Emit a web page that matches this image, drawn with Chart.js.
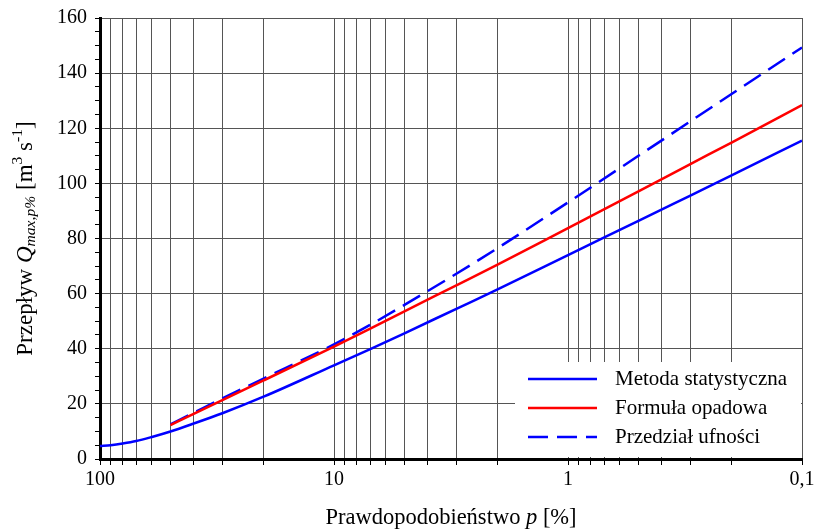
<!DOCTYPE html>
<html>
<head>
<meta charset="utf-8">
<script src="https://cdn.jsdelivr.net/npm/chart.js@4.4.1/dist/chart.umd.min.js"></script>
<style>
  html, body { margin: 0; padding: 0; background: #fff; }
  #wrap { width: 814px; height: 531px; }
</style>
</head>
<body>
<div id="wrap"><canvas id="chart" width="814" height="531"></canvas></div>
<script>
// prawdopodobieństwo p [%]
const pStat = [100, 90, 80, 70, 60, 50, 40, 30, 20, 10, 7, 5, 3, 2, 1, 0.5, 0.3, 0.2, 0.1];
const qStat = [4.7, 5.0, 5.6, 6.5, 8.0, 10.0, 12.8, 16.6, 22.6, 34.0, 39.9, 45.6, 54.5, 61.5, 74.0, 86.4, 95.6, 102.9, 115.5];

const pOpad = [50, 40, 30, 20, 10, 7, 5, 3, 2, 1, 0.5, 0.3, 0.2, 0.1];
const qOpad = [12.3, 16.3, 21.4, 28.5, 40.8, 47.3, 53.6, 63.0, 70.5, 83.8, 97.1, 107.0, 114.8, 128.4];
const qUfn = [12.6, 16.7, 22.0, 29.2, 41.6, 48.7, 55.9, 67.2, 76.5, 93.1, 110.0, 122.5, 132.4, 149.3];

const seriesNames = ['Metoda statystyczna', 'Formuła opadowa', 'Przedział ufności'];

// linie siatki: 1..9 x 10^n od 0,1 do 100
const xGrid = [];
[0.1, 1, 10].forEach(d => { for (let k = 1; k <= 9; k++) xGrid.push(+(k * d).toFixed(2)); });
xGrid.push(100);
const xLabels = [100, 10, 1, 0.1];

const FONT = "'Liberation Serif', 'Times New Roman', serif";
const toXY = (xs, ys) => xs.map((x, i) => ({ x: x, y: ys[i] }));

// tekst z kursywą / indeksami
function drawRich(ctx, parts, size) {
    let w = 0;
    parts.forEach(p => {
        const s = p.sup || p.sub ? size * 0.68 : size;
        ctx.font = (p.it ? 'italic ' : '') + s + 'px ' + FONT;
        p.w = ctx.measureText(p.t).width;
        p.s = s;
        w += p.w;
    });
    let x = -w / 2;
    parts.forEach(p => {
        ctx.font = (p.it ? 'italic ' : '') + p.s + 'px ' + FONT;
        let dy = 0;
        if (p.sup) dy = -size * 0.36;
        if (p.sub) dy = size * 0.22;
        ctx.fillText(p.t, x, dy);
        x += p.w;
    });
}

const extras = {
    id: 'extras',
    afterDraw(chart) {
        const ctx = chart.ctx;
        const a = chart.chartArea;
        ctx.save();
        ctx.fillStyle = '#000';
        ctx.textBaseline = 'middle';
        ctx.textAlign = 'left';

        // tytuł osi X
        ctx.save();
        ctx.translate((a.left + a.right) / 2, 518);
        drawRich(ctx, [{ t: 'Prawdopodobieństwo ' }, { t: 'p', it: true }, { t: ' [%]' }], 22.5);
        ctx.restore();

        // tytuł osi Y
        ctx.save();
        ctx.translate(26, (a.top + a.bottom) / 2);
        ctx.rotate(-Math.PI / 2);
        drawRich(ctx, [
            { t: 'Przepływ ' }, { t: 'Q', it: true }, { t: 'max,p%', it: true, sub: true },
            { t: ' [m' }, { t: '3', sup: true }, { t: ' s' }, { t: '-1', sup: true }, { t: ']' }
        ], 23);
        ctx.restore();

        // legenda
        const bx = 515, by = 362;
        ctx.fillStyle = '#fff';
        ctx.fillRect(bx, by, a.right - bx - 1, a.bottom - by - 2);
        ctx.font = '21px ' + FONT;
        chart.data.datasets.forEach((ds, i) => {
            const y = by + 17 + i * 29;
            ctx.strokeStyle = ds.borderColor;
            ctx.lineWidth = ds.borderWidth;
            ctx.setLineDash(ds.borderDash || []);
            ctx.beginPath();
            ctx.moveTo(bx + 13, y);
            ctx.lineTo(bx + 82, y);
            ctx.stroke();
            ctx.setLineDash([]);
            ctx.fillStyle = '#000';
            ctx.fillText(ds.label, bx + 100, y);
        });
        ctx.restore();
    }
};

new Chart(document.getElementById('chart').getContext('2d'), {
    type: 'line',
    data: {
        datasets: [{
            label: seriesNames[0],
            data: toXY(pStat, qStat),
            borderColor: '#0000ff',
            borderWidth: 2.5,
            pointRadius: 0,
            cubicInterpolationMode: 'monotone'
        }, {
            label: seriesNames[1],
            data: toXY(pOpad, qOpad),
            borderColor: '#ff0000',
            borderWidth: 2.5,
            pointRadius: 0,
            cubicInterpolationMode: 'monotone'
        }, {
            label: seriesNames[2],
            data: toXY(pOpad, qUfn),
            borderColor: '#0000ff',
            borderWidth: 2.5,
            borderDash: [20, 9],
            pointRadius: 0,
            cubicInterpolationMode: 'monotone'
        }]
    },
    options: {
        responsive: false,
        animation: false,
        layout: { padding: { top: 18, right: 12, left: 0, bottom: 0 } },
        plugins: { legend: { display: false }, tooltip: { enabled: false } },
        scales: {
            x: {
                type: 'logarithmic',
                reverse: true,
                min: 0.1,
                max: 100,
                afterBuildTicks: scale => { scale.ticks = xGrid.map(v => ({ value: v })); },
                afterFit: scale => { scale.height = 72; scale.paddingLeft = 0; scale.paddingRight = 0; },
                ticks: {
                    autoSkip: false,
                    maxRotation: 0,
                    padding: 3,
                    color: '#000',
                    font: { family: FONT, size: 20 },
                    callback: v => xLabels.includes(v) ? String(v).replace('.', ',') : ''
                },
                grid: { color: '#555', lineWidth: 1, tickLength: 6, tickColor: '#000' },
                border: { color: '#000', width: 3 }
            },
            y: {
                min: 0,
                max: 160,
                afterFit: scale => { scale.width = 100; scale.paddingTop = 0; scale.paddingBottom = 0; },
                ticks: {
                    stepSize: 5,
                    autoSkip: false,
                    padding: 8,
                    color: '#000',
                    font: { family: FONT, size: 20 },
                    callback: v => v % 20 === 0 ? String(v) : ''
                },
                grid: {
                    color: c => c.tick && c.tick.value % 20 === 0 ? '#555' : 'rgba(0,0,0,0)',
                    tickColor: '#000',
                    tickLength: 5,
                    lineWidth: 1
                },
                border: { color: '#000', width: 3 }
            }
        }
    },
    plugins: [extras]
});
</script>
</body>
</html>
